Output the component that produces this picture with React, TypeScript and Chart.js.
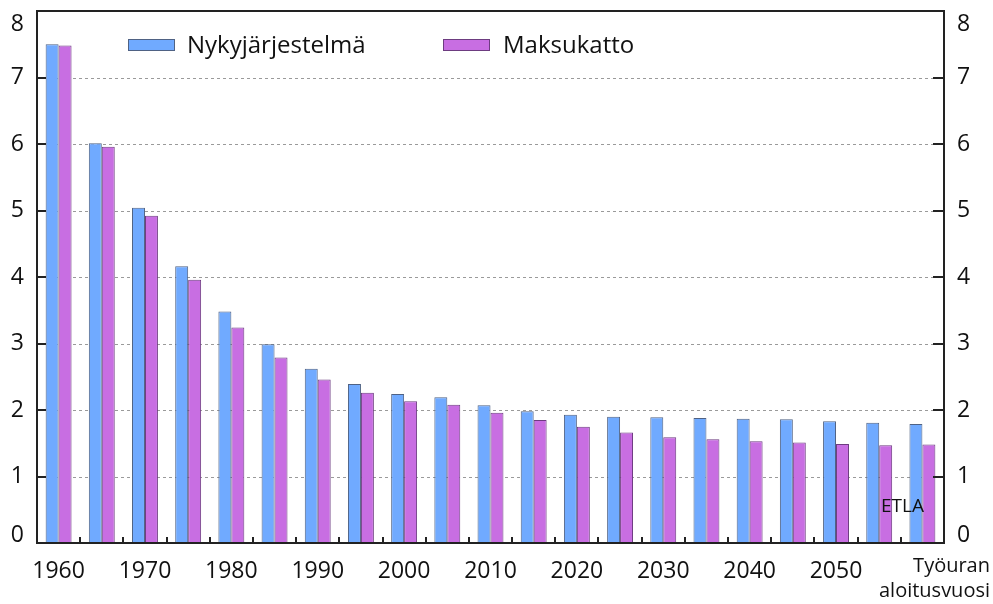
import { useEffect, useRef } from "react";
import { Chart, registerables } from "chart.js";

Chart.register(...registerables);

const years = [1960, 1965, 1970, 1975, 1980, 1985, 1990, 1995, 2000, 2005, 2010, 2015, 2020, 2025, 2030, 2035, 2040, 2045, 2050, 2055, 2060];
const nykyValues = [7.5, 6.01, 5.04, 4.16, 3.48, 2.99, 2.62, 2.39, 2.24, 2.19, 2.07, 1.98, 1.93, 1.9, 1.89, 1.88, 1.87, 1.86, 1.83, 1.81, 1.79];
const maksuValues = [7.48, 5.96, 4.92, 3.96, 3.24, 2.79, 2.46, 2.26, 2.13, 2.08, 1.96, 1.85, 1.75, 1.66, 1.59, 1.56, 1.53, 1.51, 1.49, 1.47, 1.48];
const yTicks = [0, 1, 2, 3, 4, 5, 6, 7, 8];
const gridValues = [1, 2, 3, 4, 5, 6, 7];
const xTickLabels = ["1960", "1970", "1980", "1990", "2000", "2010", "2020", "2030", "2040", "2050"];
const seriesNames = ["Nykyjärjestelmä", "Maksukatto"];
const axisTitle = ["Työuran", "aloitusvuosi"];
const sourceLabel = "ETLA";

const BLUE = "#70aaff";
const BLUE_BORDER = "#4f6284";
const PURPLE = "#c86ee2";
const PURPLE_BORDER = "#6d3c80";
const FONT = "'Open Sans', 'DejaVu Sans', sans-serif";

const decorPlugin = {
  id: "decor",
  beforeDatasetsDraw(chart: any) {
    const { ctx, chartArea } = chart;
    const y = chart.scales.y;
    ctx.save();
    ctx.strokeStyle = "#9a9a9a";
    ctx.lineWidth = 1;
    ctx.setLineDash([3, 3]);
    for (const v of gridValues) {
      const py = Math.round(y.getPixelForValue(v)) + 0.5;
      ctx.beginPath();
      ctx.moveTo(chartArea.left, py);
      ctx.lineTo(chartArea.right, py);
      ctx.stroke();
    }
    ctx.restore();
  },
  afterDatasetsDraw(chart: any) {
    const { ctx, chartArea } = chart;
    const x = chart.scales.x;
    const y = chart.scales.y;
    const { left, right, top, bottom } = chartArea;
    ctx.save();
    ctx.setLineDash([]);
    ctx.strokeStyle = "#222";
    ctx.lineWidth = 2;
    ctx.strokeRect(left, top, right - left, bottom - top);

    // y ticks (inward) on both sides
    for (const v of yTicks) {
      const py = Math.round(y.getPixelForValue(v));
      ctx.beginPath();
      ctx.moveTo(left, py);
      ctx.lineTo(left + 9, py);
      ctx.moveTo(right, py);
      ctx.lineTo(right - 11, py);
      ctx.stroke();
    }
    // x ticks at category boundaries (inward)
    const n = years.length;
    const w = (right - left) / n;
    for (let k = 1; k < n; k++) {
      const px = Math.round(left + k * w);
      ctx.beginPath();
      ctx.moveTo(px, bottom);
      ctx.lineTo(px, bottom - 6);
      ctx.stroke();
    }

    ctx.fillStyle = "#111";
    // y labels
    ctx.font = `23px ${FONT}`;
    ctx.textBaseline = "middle";
    for (const v of yTicks) {
      let py = y.getPixelForValue(v);
      if (v === 8) py += 13;
      if (v === 0) py -= 8;
      ctx.textAlign = "right";
      ctx.fillText(String(v), 24, py);
      ctx.textAlign = "left";
      ctx.fillText(String(v), 957, py);
    }
    // x labels
    ctx.textAlign = "center";
    ctx.textBaseline = "alphabetic";
    for (const lab of xTickLabels) {
      const idx = years.indexOf(Number(lab));
      const px = x.getPixelForValue(idx);
      ctx.fillText(lab, px, 578);
    }
    // axis title
    ctx.font = `20px ${FONT}`;
    ctx.textAlign = "right";
    ctx.fillText(axisTitle[0], 990, 572);
    ctx.fillText(axisTitle[1], 990, 597);

    // ETLA
    ctx.font = `19px ${FONT}`;
    ctx.textAlign = "left";
    ctx.fillText(sourceLabel, 881, 512);

    // legend
    const items = [
      { name: seriesNames[0], fill: BLUE, border: BLUE_BORDER, x: 128, tx: 187 },
      { name: seriesNames[1], fill: PURPLE, border: PURPLE_BORDER, x: 443, tx: 503 },
    ];
    ctx.font = `24px ${FONT}`;
    ctx.lineWidth = 1;
    for (const it of items) {
      ctx.fillStyle = it.fill;
      ctx.fillRect(it.x, 39, 46, 11);
      ctx.strokeStyle = it.border;
      ctx.strokeRect(it.x + 0.5, 39.5, 46, 11);
      ctx.fillStyle = "#111";
      ctx.textAlign = "left";
      ctx.textBaseline = "alphabetic";
      ctx.fillText(it.name, it.tx, 53);
    }
    ctx.restore();
  },
};

export default function App() {
  const ref = useRef<HTMLCanvasElement | null>(null);
  useEffect(() => {
    if (!ref.current) return;
    const chart = new Chart(ref.current, {
      type: "bar",
      data: {
        labels: years.map(String),
        datasets: [
          {
            label: seriesNames[0],
            data: nykyValues,
            backgroundColor: BLUE,
            borderColor: BLUE_BORDER,
            borderWidth: 1,
            categoryPercentage: 0.6,
            barPercentage: 1.0,
          },
          {
            label: seriesNames[1],
            data: maksuValues,
            backgroundColor: PURPLE,
            borderColor: PURPLE_BORDER,
            borderWidth: 1,
            categoryPercentage: 0.6,
            barPercentage: 1.0,
          },
        ],
      },
      options: {
        responsive: false,
        animation: false,
        devicePixelRatio: 1,
        layout: { padding: { left: 37, right: 49, top: 11, bottom: 61 } },
        plugins: { legend: { display: false }, tooltip: { enabled: false } },
        scales: {
          x: { display: false, offset: true },
          y: { display: false, min: 0, max: 8 },
        },
      },
      plugins: [decorPlugin],
    });
    return () => chart.destroy();
  }, []);
  return (
    <div style={{ position: "absolute", left: 0, top: 0, width: 993, height: 604, background: "#fff" }}>
      <canvas ref={ref} width={993} height={604} />
    </div>
  );
}
